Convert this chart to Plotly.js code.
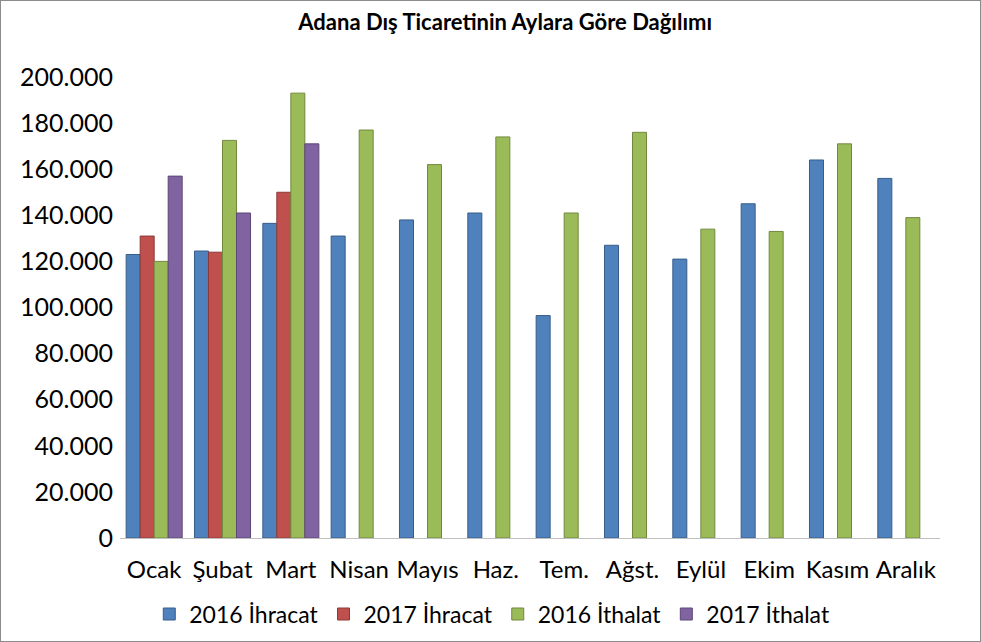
<!DOCTYPE html>
<html>
<head>
<meta charset="utf-8">
<script src="https://cdn.plot.ly/plotly-3.0.1.min.js"></script>
<style>
  html, body { margin: 0; padding: 0; background: #fff; }
  #frame { position: absolute; left: 0; top: 0; width: 981px; height: 642px; box-sizing: border-box; border: 1px solid #8c8c8c; pointer-events: none; }
</style>
</head>
<body>
<div id="chart"></div>
<div id="frame"></div>
<script>
"use strict"

var months = ['Ocak', 'Şubat', 'Mart', 'Nisan', 'Mayıs', 'Haz.', 'Tem.', 'Ağst.', 'Eylül', 'Ekim', 'Kasım', 'Aralık'];

var ihracat2016 = [123000, 124500, 136500, 131000, 138000, 141000, 96500, 127000, 121000, 145000, 164000, 156000];
var ihracat2017 = [131000, 124000, 150000, null, null, null, null, null, null, null, null, null];
var ithalat2016 = [120000, 172500, 193000, 177000, 162000, 174000, 141000, 176000, 134000, 133000, 171000, 139000];
var ithalat2017 = [157000, 141000, 171000, null, null, null, null, null, null, null, null, null];

var seriesNames = ['2016 İhracat', '2017 İhracat', '2016 İthalat', '2017 İthalat'];
var seriesColors = ['#4f81bd', '#c0504d', '#9bbb59', '#8064a2'];
var sideColors = ['#385d8a', '#8c3836', '#71893f', '#5c4776'];

var font = 'Lato, "Open Sans", sans-serif';

var values = [ihracat2016, ihracat2017, ithalat2016, ithalat2017];
var data = [];
for (var i = 0; i < values.length; i++) {
	data.push({
		x: months,
		y: values[i],
		type: 'bar',
		name: seriesNames[i],
		marker: {color: seriesColors[i], line: {color: sideColors[i], width: 1}}
	});
}

var layout = {
	width: 981,
	height: 642,
	margin: {l: 120, r: 41, t: 77, b: 104, pad: 0, autoexpand: false},
	paper_bgcolor: '#ffffff',
	plot_bgcolor: '#ffffff',
	separators: ',.',
	barmode: 'group',
	bargap: 0.18,
	bargroupgap: 0,
	title: {
		text: '<b>Adana Dış Ticaretinin Aylara Göre Dağılımı</b>',
		font: {family: font, size: 22, color: '#000'},
		x: 0.515,
		xanchor: 'center',
		yref: 'container',
		y: 0.966,
		yanchor: 'middle'
	},
	showlegend: true,
	legend: {
		orientation: 'h',
		x: 0.454,
		xanchor: 'center',
		y: -0.165,
		yanchor: 'middle',
		font: {family: font, size: 23, color: '#000'},
		tracegroupgap: 0
	},
	xaxis: {
		type: 'category',
		automargin: false,
		tickangle: 0,
		showgrid: false,
		showline: true,
		linecolor: '#bfbfbf',
		linewidth: 1,
		ticks: '',
		tickfont: {family: font, size: 24, color: '#000'},
		ticklabelstandoff: 10
	},
	yaxis: {
		automargin: false,
		range: [0, 200000],
		dtick: 20000,
		tickformat: ',d',
		showgrid: false,
		zeroline: false,
		showline: false,
		ticks: '',
		tickfont: {family: font, size: 25, color: '#000'},
		ticklabelstandoff: 6
	}
};

Plotly.newPlot('chart', data, layout, {displayModeBar: false, staticPlot: true});
</script>
</body>
</html>
